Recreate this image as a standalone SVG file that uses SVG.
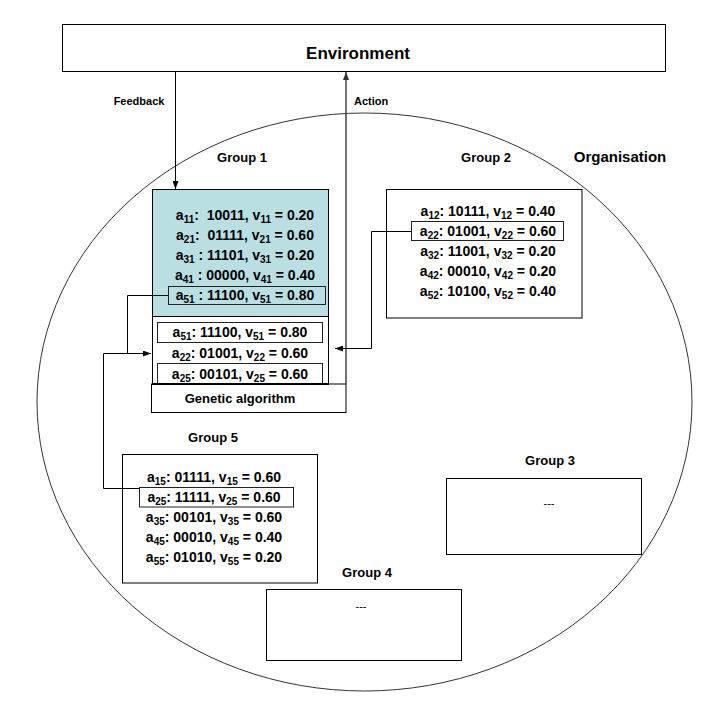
<svg xmlns="http://www.w3.org/2000/svg" width="719" height="705" viewBox="0 0 719 705">
<defs>
<marker id="arr" markerWidth="8" markerHeight="6" refX="8" refY="3" orient="auto" markerUnits="userSpaceOnUse"><path d="M0,0 L8,3 L0,6 z" fill="#000"/></marker>
<marker id="arrg" markerWidth="8" markerHeight="6" refX="8" refY="3" orient="auto" markerUnits="userSpaceOnUse"><path d="M0,0 L8,3 L0,6 z" fill="#333"/></marker>
</defs>
<style>
text{font-family:"Liberation Sans",Arial,sans-serif;font-weight:bold;fill:#000}
.row{font-size:14px;text-anchor:middle}
.lbl{font-size:13px;text-anchor:middle}
.box{fill:#fff;stroke:#000;stroke-width:1}
.sel{fill:none;stroke:#222;stroke-width:1}
.con{fill:none;stroke:#000;stroke-width:1}
</style>
<rect width="719" height="705" fill="#fff"/>
<g id="organisation">
<ellipse cx="364.5" cy="402" rx="327.5" ry="289" fill="#fff" stroke="#333" stroke-width="1"/>
<text x="620" y="162" style="font-size:15px;text-anchor:middle">Organisation</text>
</g>
<g id="environment">
<rect class="box" x="62.5" y="24.5" width="603" height="47"/>
<text x="358" y="59" style="font-size:17px;text-anchor:middle">Environment</text>
</g>
<g id="group1">
<text class="lbl" x="242" y="162">Group 1</text>
<rect x="152.5" y="189.5" width="176" height="127" fill="#b9dfe3" stroke="#000"/>
<text class="row" x="245" y="220" xml:space="preserve">a<tspan font-size="10" dy="3">11</tspan><tspan dy="-3">:  10011, v</tspan><tspan font-size="10" dy="3">11</tspan><tspan dy="-3"> = 0.20</tspan></text>
<text class="row" x="245" y="240" xml:space="preserve">a<tspan font-size="10" dy="3">21</tspan><tspan dy="-3">:  01111, v</tspan><tspan font-size="10" dy="3">21</tspan><tspan dy="-3"> = 0.60</tspan></text>
<text class="row" x="245" y="260" xml:space="preserve">a<tspan font-size="10" dy="3">31</tspan><tspan dy="-3"> : 11101, v</tspan><tspan font-size="10" dy="3">31</tspan><tspan dy="-3"> = 0.20</tspan></text>
<text class="row" x="245" y="280" xml:space="preserve">a<tspan font-size="10" dy="3">41</tspan><tspan dy="-3"> : 00000, v</tspan><tspan font-size="10" dy="3">41</tspan><tspan dy="-3"> = 0.40</tspan></text>
<rect class="sel" x="168.5" y="286.5" width="157" height="18"/>
<text class="row" x="245" y="300" xml:space="preserve">a<tspan font-size="10" dy="3">51</tspan><tspan dy="-3"> : 11100, v</tspan><tspan font-size="10" dy="3">51</tspan><tspan dy="-3"> = 0.80</tspan></text>
</g>
<g id="selection">
<rect x="152.5" y="316.5" width="176" height="67.5" fill="#fff" stroke="#000"/>
<rect class="sel" x="157.5" y="322.5" width="165" height="20"/>
<text class="row" x="240" y="337">a<tspan font-size="10" dy="3">51</tspan><tspan dy="-3">: 11100, v</tspan><tspan font-size="10" dy="3">51</tspan><tspan dy="-3"> = 0.80</tspan></text>
<text class="row" x="240" y="358">a<tspan font-size="10" dy="3">22</tspan><tspan dy="-3">: 01001, v</tspan><tspan font-size="10" dy="3">22</tspan><tspan dy="-3"> = 0.60</tspan></text>
<rect class="sel" x="157.5" y="363.5" width="165" height="20.5"/>
<text class="row" x="240" y="379">a<tspan font-size="10" dy="3">25</tspan><tspan dy="-3">: 00101, v</tspan><tspan font-size="10" dy="3">25</tspan><tspan dy="-3"> = 0.60</tspan></text>
</g>
<g id="genetic-algorithm">
<rect class="box" x="151.5" y="384" width="194.5" height="28.5"/>
<line x1="152" y1="384" x2="329" y2="384" stroke="#000" stroke-width="2"/>
<text x="240" y="403" style="font-size:13px;text-anchor:middle">Genetic algorithm</text>
</g>
<g id="group2">
<text class="lbl" x="486" y="162">Group 2</text>
<rect class="box" x="386.5" y="189.5" width="195.5" height="128.5"/>
<text class="row" x="488" y="216">a<tspan font-size="10" dy="3">12</tspan><tspan dy="-3">: 10111, v</tspan><tspan font-size="10" dy="3">12</tspan><tspan dy="-3"> = 0.40</tspan></text>
<rect class="sel" x="411.5" y="221.5" width="152" height="19"/>
<text class="row" x="488" y="236">a<tspan font-size="10" dy="3">22</tspan><tspan dy="-3">: 01001, v</tspan><tspan font-size="10" dy="3">22</tspan><tspan dy="-3"> = 0.60</tspan></text>
<text class="row" x="488" y="256">a<tspan font-size="10" dy="3">32</tspan><tspan dy="-3">: 11001, v</tspan><tspan font-size="10" dy="3">32</tspan><tspan dy="-3"> = 0.20</tspan></text>
<text class="row" x="488" y="276">a<tspan font-size="10" dy="3">42</tspan><tspan dy="-3">: 00010, v</tspan><tspan font-size="10" dy="3">42</tspan><tspan dy="-3"> = 0.20</tspan></text>
<text class="row" x="488" y="296">a<tspan font-size="10" dy="3">52</tspan><tspan dy="-3">: 10100, v</tspan><tspan font-size="10" dy="3">52</tspan><tspan dy="-3"> = 0.40</tspan></text>
</g>
<g id="group5">
<text class="lbl" x="213" y="442">Group 5</text>
<rect class="box" x="122.5" y="454.5" width="195" height="128.5"/>
<text class="row" x="214" y="482">a<tspan font-size="10" dy="3">15</tspan><tspan dy="-3">: 01111, v</tspan><tspan font-size="10" dy="3">15</tspan><tspan dy="-3"> = 0.60</tspan></text>
<rect class="sel" x="139.5" y="487.5" width="154" height="19.5"/>
<text class="row" x="214" y="502">a<tspan font-size="10" dy="3">25</tspan><tspan dy="-3">: 11111, v</tspan><tspan font-size="10" dy="3">25</tspan><tspan dy="-3"> = 0.60</tspan></text>
<text class="row" x="214" y="522">a<tspan font-size="10" dy="3">35</tspan><tspan dy="-3">: 00101, v</tspan><tspan font-size="10" dy="3">35</tspan><tspan dy="-3"> = 0.60</tspan></text>
<text class="row" x="214" y="542">a<tspan font-size="10" dy="3">45</tspan><tspan dy="-3">: 00010, v</tspan><tspan font-size="10" dy="3">45</tspan><tspan dy="-3"> = 0.40</tspan></text>
<text class="row" x="214" y="562">a<tspan font-size="10" dy="3">55</tspan><tspan dy="-3">: 01010, v</tspan><tspan font-size="10" dy="3">55</tspan><tspan dy="-3"> = 0.20</tspan></text>
</g>
<g id="group3">
<text class="lbl" x="550" y="465">Group 3</text>
<rect class="box" x="446.5" y="478.5" width="195" height="76"/>
<text x="549" y="507" style="font-size:11px;font-weight:normal;text-anchor:middle">---</text>
</g>
<g id="group4">
<text class="lbl" x="367" y="577">Group 4</text>
<rect class="box" x="266.5" y="589.5" width="195" height="71"/>
<text x="361" y="610" style="font-size:11px;font-weight:normal;text-anchor:middle">---</text>
</g>
<g id="connectors">
<line class="con" x1="175.5" y1="72" x2="175.5" y2="189" marker-end="url(#arr)"/>
<text x="139" y="105" style="font-size:11px;text-anchor:middle">Feedback</text>
<line x1="346" y1="384" x2="346" y2="72" stroke="#444" stroke-width="1.5" marker-end="url(#arrg)"/>
<text x="354" y="105" style="font-size:11px">Action</text>
<polyline class="con" points="168,295.5 127.5,295.5 127.5,353.5"/>
<polyline class="con" points="139,488.5 103.5,488.5 103.5,353.5 151,353.5" marker-end="url(#arr)"/>
<polyline class="con" points="411,231.5 371.5,231.5 371.5,348.5 335,348.5" marker-end="url(#arr)"/>
</g>
</svg>
